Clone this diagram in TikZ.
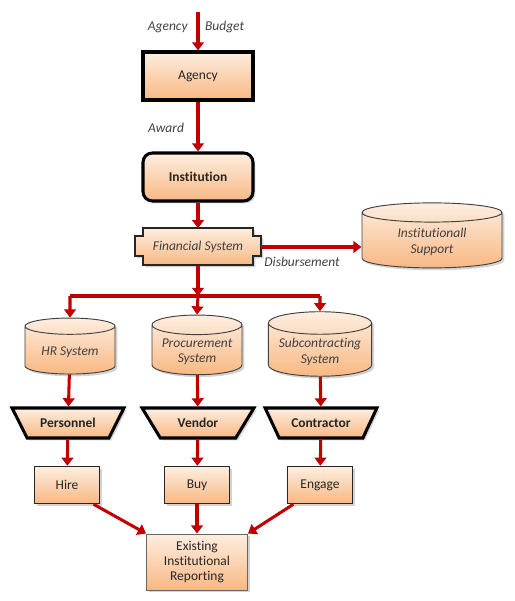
\documentclass[tikz,border=0pt]{standalone}
\usepackage{fontspec}
\setmainfont{Carlito}[Ligatures=NoCommon]
\usetikzlibrary{arrows.meta,shapes.geometric,shadows,positioning}

\definecolor{flowred}{HTML}{C00000}
\definecolor{peachtop}{HTML}{FEEEE0}
\definecolor{peachbot}{HTML}{F8B883}
\definecolor{labelgray}{HTML}{404040}

\tikzset{
    flow/.style={draw=flowred, line width=2.6pt, -{Triangle[width=10pt,length=7pt]}},
    busline/.style={draw=flowred, line width=2.6pt},
    peach/.style={top color=peachtop, bottom color=peachbot,
        drop shadow={opacity=0.35, shadow xshift=2pt, shadow yshift=-2pt}},
    txt/.style={font=\fontsize{11.5}{13}\selectfont, text=black!85},
    flowlabel/.style={font=\fontsize{11.5}{13}\selectfont\itshape, text=labelgray},
    thickbox/.style={peach, txt, draw=black, line width=2.6pt, minimum width=3.3cm, minimum height=1.44cm},
    plainbox/.style={peach, txt, draw=black!85, line width=1.2pt, minimum width=1.95cm, minimum height=1.11cm},
    store/.style={peach, draw=black!75, line width=0.8pt, cylinder, shape border rotate=90, aspect=0.25,
        font=\fontsize{11.5}{13}\selectfont\itshape, text=labelgray, align=center},
    gate/.style={peach, txt, draw=black, line width=2.6pt, trapezium, shape border rotate=180,
        trapezium stretches=true, trapezium angle=56, minimum width=3.36cm, minimum height=0.9cm}
}

\begin{document}
\begin{tikzpicture}[x=0.03cm, y=-0.03cm]
    \useasboundingbox (0, 0) rectangle (514, 601);

    \coordinate (budget) at (198, 12);
    \node[flowlabel] (budgetlabel) at (196, 27) {Agency\hspace{1.3em}Budget};
    \node[thickbox] (agency) at (198, 76) {Agency};
    \node[thickbox, rounded corners=8pt, font=\fontsize{11.5}{13}\selectfont\bfseries] (institution) at (198, 177) {Institution};
    \node[flowlabel] (awardlabel) at (166, 128) {Award};

    \begin{scope}[shift={(198, 247)}]
        \path[peach, draw=black!85, line width=1.2pt]
        (-55, -19) -- (55, -19) -- (55, -11) -- (63, -11) -- (63, 9) -- (55, 9) -- (55, 18)
        -- (-55, 18) -- (-55, 9) -- (-63, 9) -- (-63, -11) -- (-55, -11) -- cycle;
    \end{scope}
    \node[flowlabel, minimum width=3.75cm, minimum height=1.11cm] (financial) at (198, 247) {Financial System};

    \node[store, minimum width=4.2cm, minimum height=1.95cm] (support) at (432, 242) {Institutionall\\Support};
    \node[flowlabel] (disbursement) at (302, 262) {Disbursement};

    \coordinate (busmid) at (198, 296);
    \node[store, minimum width=2.7cm, minimum height=1.68cm] (hr) at (70, 352) {HR System};
    \node[store, minimum width=2.7cm, minimum height=1.68cm] (procurement) at (197, 352) {Procurement\\System};
    \node[store, minimum width=3.1cm, minimum height=1.68cm] (subcontracting) at (320, 352) {Subcontracting\\System};

    \node[gate, font=\fontsize{11.5}{13}\selectfont\bfseries] (personnel) at (68, 423) {Personnel};
    \node[gate, font=\fontsize{11.5}{13}\selectfont\bfseries] (vendor) at (198, 423) {Vendor};
    \node[gate, font=\fontsize{11.5}{13}\selectfont\bfseries] (contractor) at (321, 423) {Contractor};

    \node[plainbox] (hire) at (67, 485) {Hire};
    \node[plainbox] (buy) at (197, 485) {Buy};
    \node[plainbox] (engage) at (320, 485) {Engage};

    \node[plainbox, draw=black!60, line width=0.8pt, align=center, minimum width=3.03cm, minimum height=1.68cm] (reporting) at (197, 562) {Existing\\Institutional\\Reporting};

    \draw[flow] (budget) -- (agency);
    \draw[flow] (agency) -- (institution);
    \draw[flow] (institution) -- (financial);
    \draw[flow] (financial.east) -- (financial.east -| support.west);
    \draw[flow] (financial) -- (busmid);
    \draw[busline] (hr |- busmid) -- (subcontracting |- busmid);
    \draw[flow] (hr |- busmid) -- (hr.north);
    \draw[flow] (busmid) -- (procurement.north);
    \draw[flow] (subcontracting |- busmid) -- (subcontracting.north);
    \draw[flow] (hr) -- (personnel);
    \draw[flow] (procurement) -- (vendor);
    \draw[flow] (subcontracting) -- (contractor);
    \draw[flow] (personnel) -- (hire);
    \draw[flow] (vendor) -- (buy);
    \draw[flow] (contractor) -- (engage);
    \draw[flow] ([xshift=-0.2cm]hire.south east) -- (reporting.north west);
    \draw[flow] (buy) -- (reporting);
    \draw[flow] ([xshift=0.2cm]engage.south west) -- (reporting.north east);
\end{tikzpicture}
\end{document}
